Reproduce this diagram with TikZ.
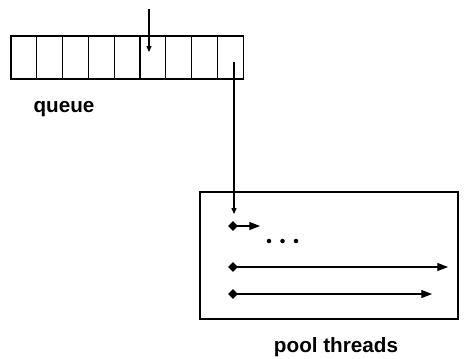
\documentclass[tikz,border=0pt]{standalone}
\usepackage{fontspec}
\setmainfont{Liberation Sans}
\usetikzlibrary{shapes.geometric,arrows.meta,positioning}

\begin{document}
\begin{tikzpicture}[
    x=0.75pt, y=-0.75pt,
    line width=0.85pt,
    cell/.style={rectangle, draw=black, minimum width=19.35pt, minimum height=32.25pt, inner sep=0pt, outer sep=0pt},
    poolbox/.style={rectangle, draw=black, minimum width=193.5pt, minimum height=95.25pt, inner sep=0pt},
    caption/.style={font=\fontsize{15.5}{18}\selectfont\bfseries, inner sep=0pt},
    start/.style={diamond, fill=black, minimum size=7.5pt, inner sep=0pt},
    arrow/.style={-{Triangle[length=8pt,width=6pt]}},
    small arrow/.style={-{Triangle[length=4.5pt,width=3.8pt]}}
]
\useasboundingbox (0,0) rectangle (464,358);

% queue cells
\foreach \i in {1,...,9}
    \node[cell] (c\i) at ({11+25.8*(\i-0.5)}, 57.5) {};
\node[caption] (qlabel) at (64,109) {queue};

% item entering the queue
\coordinate (in) at (149,9);
\coordinate (inend) at (149,52);
\draw[small arrow] (in) -- (inend);

% pool of threads
\node[poolbox] (pool) at (329,255.5) {};
\node[caption] (plabel) at (336,347) {pool threads};

\node[start] (d1) at (233,226) {};
\node[start] (d2) at (233,267) {};
\node[start] (d3) at (233,294) {};
\coordinate (e1) at (260,226);
\coordinate (e2) at (448,267);
\coordinate (e3) at (432,294);
\draw[arrow] (d1.center) -- (e1);
\draw[arrow] (d2.center) -- (e2);
\draw[arrow] (d3.center) -- (e3);
\foreach \x in {269,282.5,296}
    \fill (\x,241) circle (1.7pt);

% item taken from the queue by a thread
\coordinate (out) at (234,62);
\coordinate (pick) at (234,214);
\draw[small arrow] (out) -- (pick);
\end{tikzpicture}
\end{document}
